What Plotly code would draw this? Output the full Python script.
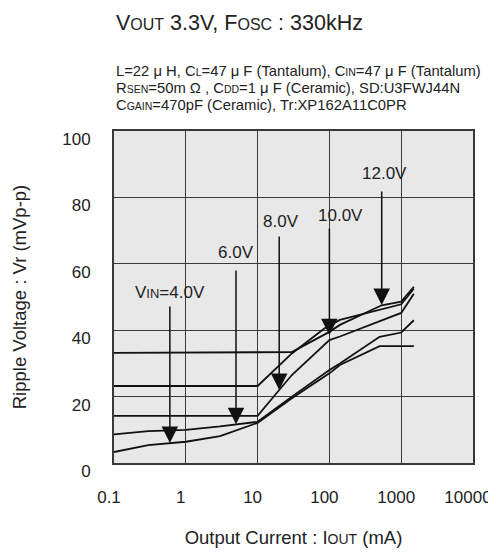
import numpy as np
import plotly.graph_objects as go

# ---- data ----
series_names = ["VIN=4.0V", "6.0V", "8.0V", "10.0V", "12.0V"]

iout_4v = [0.1, 0.3, 1, 3, 10, 30, 100, 140, 500, 1500]
vr_4v = [3.3, 5.4, 6.4, 8.1, 12.1, 19.5, 27.0, 29.5, 35.2, 35.2]

iout_6v = [0.1, 0.3, 1, 3, 10, 30, 100, 140, 500, 1000, 1500]
vr_6v = [8.6, 9.6, 10.0, 11.0, 12.4, 20.0, 28.0, 30.0, 38.0, 39.3, 43.0]

iout_8v = [0.1, 10, 20, 30, 100, 140, 1000, 1500]
vr_8v = [14.2, 14.2, 22.0, 26.5, 37.0, 38.1, 45.2, 51.0]

iout_10v = [0.1, 10, 30, 85, 140, 1000, 1500]
vr_10v = [23.2, 23.2, 33.0, 40.5, 43.1, 47.8, 52.5]

iout_12v = [0.1, 30, 100, 140, 535, 1000, 1500]
vr_12v = [33.2, 33.4, 39.5, 41.6, 47.5, 48.6, 53.1]

# arrow tips (current mA, ripple mV), arrow tails (ripple mV), label anchors
arrow_tip_i = [0.6, 5.0, 20, 100, 535]
arrow_tip_v = [6.0, 11.7, 22.0, 38.5, 47.6]
arrow_tail_v = [47.6, 58.4, 68.7, 71.1, 82.2]
label_i = [0.60, 5.0, 21, 141, 594]
label_v = [51.5, 63.3, 72.6, 74.7, 87.3]
label_text = ["V<span style='font-size:13px'>IN</span>=4.0V", "6.0V", "8.0V", "10.0V", "12.0V"]

x_tickvals = [0.1, 1, 10, 100, 1000, 10000]
x_ticktext = ["0.1", "1", "10", "100", "1000", "10000"]
y_tickvals = [0, 20, 40, 60, 80, 100]

FONT = "Liberation Sans, Arial, sans-serif"
TXT = "#222222"
GRID = "#3a3a3a"

fig = go.Figure()
for xs, ys, nm in zip([iout_4v, iout_6v, iout_8v, iout_10v, iout_12v],
                      [vr_4v, vr_6v, vr_8v, vr_10v, vr_12v], series_names):
    fig.add_trace(go.Scatter(x=xs, y=ys, mode="lines", name=nm,
                             line=dict(color="#111111", width=1.8),
                             showlegend=False, hoverinfo="skip"))

annotations = []
for ti, tv, tl in zip(arrow_tip_i, arrow_tip_v, arrow_tail_v):
    annotations.append(dict(x=np.log10(ti), y=tv, ax=np.log10(ti), ay=tl,
                            xref="x", yref="y", axref="x", ayref="y",
                            text="", showarrow=True, arrowhead=2,
                            arrowsize=2.2, arrowwidth=1.5, arrowcolor="#111111"))
for li, lv, lt in zip(label_i, label_v, label_text):
    annotations.append(dict(x=np.log10(li), y=lv, xref="x", yref="y", text=lt,
                            showarrow=False, font=dict(size=17, color=TXT, family=FONT)))

small = "font-size:{}px"
title = ("V<span style='" + small.format(16) + "'>OUT</span> 3.3V, F<span style='"
         + small.format(16) + "'>OSC</span> : 330kHz")
sub1 = ("L=22 μ H, C<span style='" + small.format(10.5) + "'>L</span>=47 μ F (Tantalum), C<span style='"
        + small.format(10.5) + "'>IN</span>=47 μ F (Tantalum)")
sub2 = ("R<span style='" + small.format(10.5) + "'>SEN</span>=50m Ω , C<span style='"
        + small.format(10.5) + "'>DD</span>=1 μ F (Ceramic), SD:U3FWJ44N")
sub3 = ("C<span style='" + small.format(10.5) + "'>GAIN</span>=470pF (Ceramic), Tr:XP162A11C0PR")

annotations.append(dict(x=0, y=1.325, xref="paper", yref="paper", xanchor="left", yanchor="middle",
                        text=title, showarrow=False, font=dict(size=21.5, color=TXT, family=FONT)))
for yy, tt in zip([1.181, 1.1305, 1.079], [sub1, sub2, sub3]):
    annotations.append(dict(x=0, y=yy, xref="paper", yref="paper", xanchor="left", yanchor="middle",
                            text=tt, showarrow=False, font=dict(size=14.8, color=TXT, family=FONT)))

# the page body has an 8px margin, so the figure is 8px smaller and offset
fig.update_layout(
    width=488, height=544,
    margin=dict(l=106, r=23, t=123, b=89, autoexpand=False),
    paper_bgcolor="white", plot_bgcolor="#e8e8e8",
    font=dict(family=FONT, color=TXT),
    annotations=annotations,
)
fig.update_xaxes(type="log", range=[-1, 4], tickvals=x_tickvals, ticktext=x_ticktext,
                 automargin=False,
                 showgrid=True, gridcolor=GRID, gridwidth=1.4, zeroline=False,
                 showline=True, linecolor=GRID, linewidth=2, mirror=True,
                 ticks="", tickfont=dict(size=17, color=TXT), ticklabelstandoff=18,
                 ticklabelshift=-5,
                 title=dict(text="Output Current : I<span style='font-size:14px'>OUT</span> (mA)",
                            font=dict(size=18.5, color=TXT), standoff=25))
fig.update_yaxes(range=[0, 100], tickvals=y_tickvals,
                 automargin=False,
                 showgrid=True, gridcolor=GRID, gridwidth=1.4, zeroline=False,
                 showline=True, linecolor=GRID, linewidth=2, mirror=True,
                 ticks="", tickfont=dict(size=17, color=TXT), ticklabelstandoff=18,
                 ticklabelshift=8,
                 title=dict(text="Ripple Voltage : Vr (mVp-p)",
                            font=dict(size=18.5, color=TXT), standoff=31))

fig.write_html("out.html")
